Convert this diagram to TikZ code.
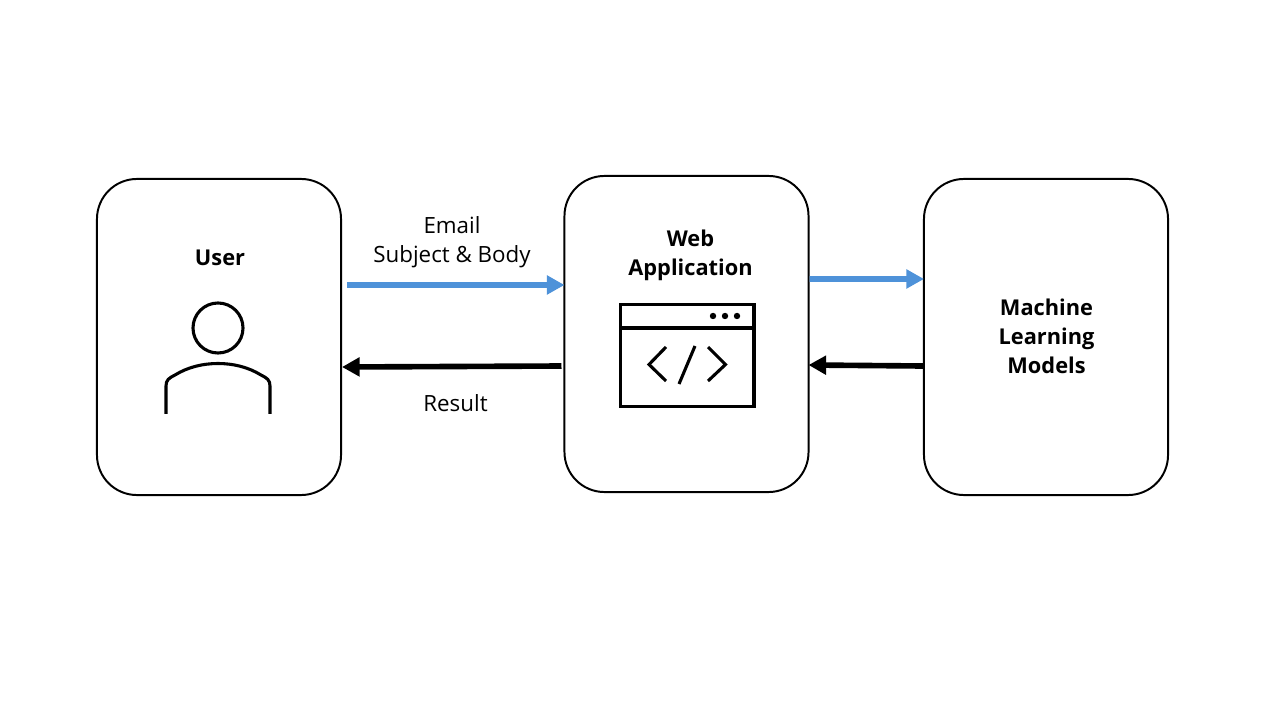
\documentclass[tikz,border=0pt]{standalone}
\usepackage{fontspec}
\setmainfont{Open Sans}
\usetikzlibrary{arrows.meta}
\tikzset{
	panel/.style={draw, line width=1.4pt, rounded corners=1cm, minimum width=6.1cm, minimum height=7.9cm, inner sep=0pt},
	lbl/.style={align=center, font=\fontsize{15.9}{20.6}\selectfont},
	lblbold/.style={lbl, font=\fontsize{15.5}{20.6}\selectfont\bfseries},
	bluearrow/.style={-{Triangle[length=12.5pt,width=13pt]}, line width=4pt, draw={rgb,255:red,78;green,146;blue,217}},
	blackarrow/.style={-{Triangle[length=12.5pt,width=13pt]}, line width=4pt, draw=black},
	icon/.style={draw, line width=2.2pt}
}
\begin{document}
\begin{tikzpicture}[x=0.025cm,y=-0.025cm]
	\useasboundingbox (0,0) rectangle (1280,720);
	% Caixas
	\node[panel] (user) at (219,337) {};
	\node[panel] (web) at (686.5,334) {};
	\node[panel] (models) at (1046,337) {};
	% Rotulos
	\node[lblbold] (userlbl) at (220,258) {User};
	\node[lblbold] (weblbl) at (690.5,255) {Web\\Application};
	\node[lblbold] (modelslbl) at (1046.5,336) {Machine\\Learning\\Models};
	\node[lbl] (emaillbl) at (452,242.5) {Email\\Subject \& Body};
	\node[lbl] (resultlbl) at (455.5,403) {Result};
	% Setas
	\draw[bluearrow] ([xshift=0.125cm,yshift=1.3cm]user.east) -- ([xshift=0.025cm,yshift=1.225cm]web.west);
	\draw[blackarrow] ([xshift=-0.05cm,yshift=-0.8cm]web.west) -- ([yshift=-0.75cm]user.east);
	\draw[bluearrow] ([yshift=1.375cm]web.east) -- ([xshift=0.025cm,yshift=1.45cm]models.west);
	\draw[blackarrow] ([yshift=-0.725cm]models.west) -- ([xshift=-0.025cm,yshift=-0.775cm]web.east);
	% Usuario
	\node[icon, circle, minimum size=1.25cm, inner sep=0pt] (head) at (218,328) {};
	\draw[icon] (166,414) -- (166,386) .. controls (166,380) and (169,378) .. (175,375) .. controls (188,367) and (203,363.5) .. (218,363.5) .. controls (233,363.5) and (248,367) .. (261,375) .. controls (267,378) and (270,380) .. (270,386) -- (270,414);
	% Janela
	\draw[icon] (620.5,304.5) rectangle (754,406.5);
	\draw[icon] (620,328) -- (754,328);
	\foreach \x in {713,725,737} \fill (\x,316) circle (0.08cm);
	\draw[icon] (666,347) -- (649,364.5) -- (666,381);
	\draw[icon] (708,347) -- (725.5,364.5) -- (708,381);
	\draw[icon] (695,346) -- (679,384);
\end{tikzpicture}
\end{document}
